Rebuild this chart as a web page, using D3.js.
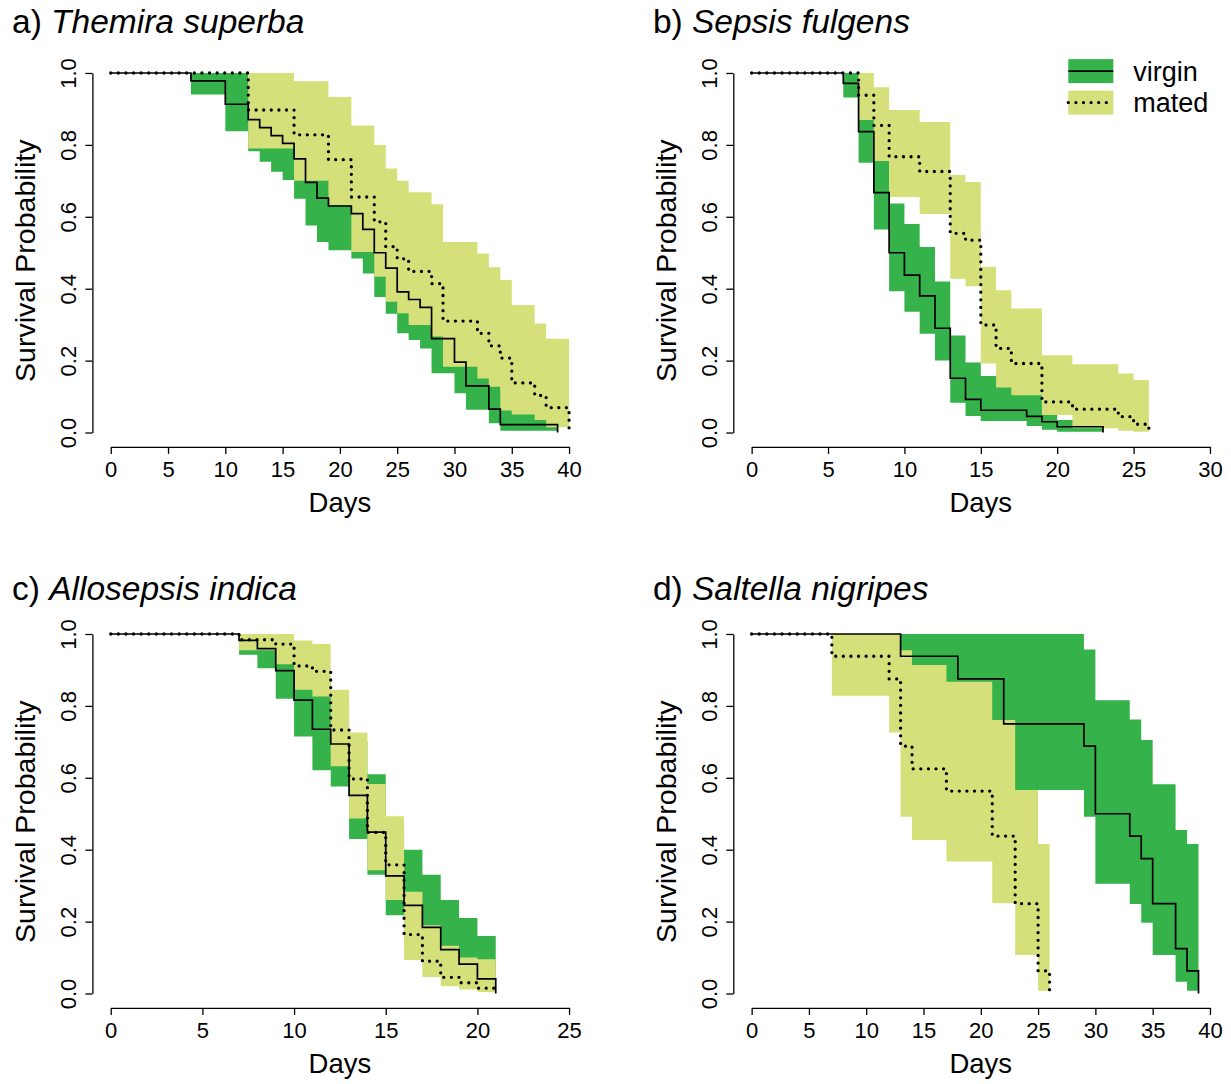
<!DOCTYPE html>
<html>
<head>
<meta charset="utf-8">
<script src="https://cdn.jsdelivr.net/npm/d3@7"></script>
<style>
  body { margin: 0; background: #fff; }
  text { font-family: "Liberation Sans", Arial, sans-serif; fill: #000; }
</style>
</head>
<body>
<svg id="chart" width="1231" height="1084"></svg>
<script>
// Kaplan-Meier curves.
// *Days = event times, *Surv = survival after each time,
// *Low / *High = confidence band on each interval [Days[i], Days[i+1])

// a) Themira superba
var aVirginDays = [0, 7, 10, 12, 13, 14, 15, 16, 17, 18, 19, 21, 22, 23, 24, 25, 26, 27, 28, 30, 31, 33, 34, 39];
var aVirginSurv = [1, .978, .913, .870, .848, .826, .804, .761, .696, .652, .630, .609, .565, .500, .457, .391, .370, .348, .261, .196, .130, .065, .022, 0];
var aVirginLow  = [1, .94, .838, .782, .753, .725, .702, .65, .576, .53, .507, .484, .442, .377, .33, .276, .257, .234, .165, .109, .063, .026, .005];
var aVirginHigh = [1, 1, 1, .97, .96, .945, .93, .89, .84, .80, .78, .76, .72, .66, .62, .56, .53, .51, .42, .35, .27, .18, .12];
var aMatedDays = [0, 12, 16, 19, 21, 23, 24, 25, 26, 28, 29, 32, 33, 34, 35, 37, 38, 40];
var aMatedSurv = [1, .897, .828, .759, .655, .586, .517, .483, .448, .414, .310, .276, .241, .207, .138, .103, .069, 0];
var aMatedLow  = [1, .79, .70, .632, .502, .433, .364, .332, .299, .267, .183, .15, .127, .061, .05, .035, .015];
var aMatedHigh = [1, 1, .977, .933, .854, .80, .734, .70, .668, .635, .53, .498, .46, .424, .355, .303, .261];

// b) Sepsis fulgens
var bVirginDays = [0, 6, 7, 8, 9, 10, 11, 12, 13, 14, 15, 18, 19, 20, 23];
var bVirginSurv = [1, .971, .837, .667, .5, .438, .380, .290, .151, .092, .062, .045, .03, .016, 0];
var bVirginLow  = [1, .932, .75, .565, .393, .336, .275, .2, .083, .046, .032, .018, .008, .002];
var bVirginHigh = [1, 1, .93, .79, .637, .58, .516, .42, .27, .195, .157, .12, .07, .035];
var bMatedDays = [0, 7, 8, 9, 11, 13, 14, 15, 16, 17, 19, 21, 24, 25, 26];
var bMatedSurv = [1, .938, .854, .767, .726, .554, .535, .299, .234, .192, .085, .065, .044, .023, 0];
var bMatedLow  = [1, .869, .755, .655, .608, .428, .407, .192, .125, .104, .049, .012, .005, .002];
var bMatedHigh = [1, 1, .96, .897, .864, .716, .697, .461, .396, .345, .215, .19, .164, .146];

// c) Allosepsis indica
var cVirginDays = [0, 7, 8, 9, 10, 11, 12, 13, 14, 15, 16, 17, 18, 19, 20, 21];
var cVirginSurv = [1, .982, .959, .898, .816, .735, .694, .551, .449, .327, .245, .184, .122, .082, .041, 0];
var cVirginLow  = [1, .942, .905, .82, .715, .621, .576, .43, .33, .218, .15, .10, .055, .03, .01];
var cVirginHigh = [1, 1, 1, .98, .93, .87, .82, .70, .61, .47, .40, .33, .26, .21, .16];
var cMatedDays = [0, 7, 9, 10, 11, 12, 13, 14, 15, 16, 17, 18, 19, 20, 21];
var cMatedSurv = [1, .984, .972, .911, .896, .733, .597, .448, .358, .164, .09, .045, .03, .015, 0];
var cMatedLow  = [1, .955, .916, .845, .826, .632, .487, .343, .26, .093, .046, .02, .011, .004];
var cMatedHigh = [1, 1, 1, .982, .972, .845, .726, .583, .493, .283, .19, .133, .10, .095];

// d) Saltella nigripes
var dVirginDays = [0, 13, 18, 22, 29, 30, 33, 34, 35, 37, 38, 39];
var dVirginSurv = [1, .938, .875, .75, .688, .5, .438, .375, .25, .125, .063, 0];
var dVirginLow  = [1, .82, .72, .566, .492, .305, .249, .197, .107, .033, .008];
var dVirginHigh = [1, 1, 1, 1, .957, .816, .762, .705, .582, .455, .416];
var dMatedDays = [0, 7, 12, 13, 14, 17, 21, 23, 25, 26];
var dMatedSurv = [1, .938, .875, .688, .625, .563, .438, .25, .063, 0];
var dMatedLow  = [1, .828, .726, .492, .427, .367, .251, .107, .008];
var dMatedHigh = [1, 1, 1, .955, .914, .867, .761, .566, .416];

var yTicks = [0, 0.2, 0.4, 0.6, 0.8, 1.0];
var legendLabels = ["virgin", "mated"];

var virginFill = "#35b34a", matedFill = "#d5e07b";

var panels = [
  {tag: "a)", name: "Themira superba", col: 0, row: 0, xmax: 40,
   virgin: [aVirginDays, aVirginSurv, aVirginLow, aVirginHigh],
   mated: [aMatedDays, aMatedSurv, aMatedLow, aMatedHigh]},
  {tag: "b)", name: "Sepsis fulgens", col: 1, row: 0, xmax: 30, legend: true,
   virgin: [bVirginDays, bVirginSurv, bVirginLow, bVirginHigh],
   mated: [bMatedDays, bMatedSurv, bMatedLow, bMatedHigh]},
  {tag: "c)", name: "Allosepsis indica", col: 0, row: 1, xmax: 25,
   virgin: [cVirginDays, cVirginSurv, cVirginLow, cVirginHigh],
   mated: [cMatedDays, cMatedSurv, cMatedLow, cMatedHigh]},
  {tag: "d)", name: "Saltella nigripes", col: 1, row: 1, xmax: 40,
   virgin: [dVirginDays, dVirginSurv, dVirginLow, dVirginHigh],
   mated: [dMatedDays, dMatedSurv, dMatedLow, dMatedHigh]}
];

var svg = d3.select("#chart");
var W = 495, H = 388.3;
var lefts = [92.4, 733.3], tops = [58.6, 619.6];
var titleY = [33, 600];
var dotted = "0 7.6";

function bandPts(g) {
  var days = g[0], lo = g[2], hi = g[3];
  var pts = lo.map(function(v, i) { return {t: days[i], lo: v, hi: hi[i]}; });
  var last = lo.length - 1;
  pts.push({t: days[days.length - 1], lo: lo[last], hi: hi[last]});
  return pts;
}
function survPts(g) {
  return g[0].map(function(t, i) { return {t: t, s: g[1][i]}; });
}

panels.forEach(function(p) {
  var left = lefts[p.col], top = tops[p.row];
  var x = d3.scaleLinear().domain([-0.04 * p.xmax, 1.04 * p.xmax]).range([left, left + W]);
  var y = d3.scaleLinear().domain([-0.04, 1.04]).range([top + H, top]);
  var g = svg.append("g");

  var area = d3.area().curve(d3.curveStepAfter)
    .x(function(d) { return x(d.t); })
    .y0(function(d) { return y(d.lo); })
    .y1(function(d) { return y(d.hi); });
  var line = d3.line().curve(d3.curveStepAfter)
    .x(function(d) { return x(d.t); })
    .y(function(d) { return y(d.s); });

  g.append("path").attr("d", area(bandPts(p.virgin))).attr("fill", virginFill);
  g.append("path").attr("d", area(bandPts(p.mated))).attr("fill", matedFill);

  g.append("path").attr("d", line(survPts(p.virgin)))
    .attr("fill", "none").attr("stroke", "#000").attr("stroke-width", 1.7);
  g.append("path").attr("d", line(survPts(p.mated)))
    .attr("fill", "none").attr("stroke", "#000").attr("stroke-width", 3.3)
    .attr("stroke-linecap", "round").attr("stroke-dasharray", dotted);

  // axes, R style: line only between first and last tick
  var xa = d3.scaleLinear().domain([0, p.xmax]).range([x(0), x(p.xmax)]);
  var xAxis = g.append("g").attr("transform", "translate(0," + (top + H) + ")")
    .call(d3.axisBottom(xa).tickValues(d3.range(0, p.xmax + 1, 5))
      .tickSize(7).tickSizeOuter(0).tickPadding(7).tickFormat(d3.format("d")));
  var ya = d3.scaleLinear().domain([0, 1]).range([y(0), y(1)]);
  var yAxis = g.append("g").attr("transform", "translate(" + left + ",0)")
    .call(d3.axisLeft(ya).tickValues(yTicks).tickSize(7).tickSizeOuter(0)
      .tickFormat(d3.format(".1f")));
  [xAxis, yAxis].forEach(function(ax) {
    ax.selectAll("path, line").attr("stroke", "#000").attr("stroke-width", 1.3);
    ax.selectAll("text").attr("font-size", 22)
      .attr("font-family", "'Liberation Sans', Arial, sans-serif").attr("fill", "#000");
  });
  yAxis.selectAll("text")
    .attr("text-anchor", "middle").attr("x", null).attr("dy", null)
    .attr("transform", "translate(-16,0) rotate(-90)");

  g.append("text").attr("x", left + W / 2).attr("y", top + H + 65)
    .attr("text-anchor", "middle").attr("font-size", 27.5).text("Days");
  g.append("text")
    .attr("transform", "translate(" + (left - 57) + "," + (top + H / 2 + 8) + ") rotate(-90)")
    .attr("text-anchor", "middle").attr("font-size", 28.5).text("Survival Probability");

  var title = g.append("text").attr("x", left - 80.4).attr("y", titleY[p.row]).attr("font-size", 33.5);
  title.append("tspan").text(p.tag + " ");
  title.append("tspan").attr("font-style", "italic").text(p.name);

  if (p.legend) {
    var lg = g.append("g").attr("transform", "translate(" + (left + 335) + "," + top + ")");
    var fills = [virginFill, matedFill];
    legendLabels.forEach(function(lab, i) {
      var cy = 12.5 + i * 31.5;
      lg.append("rect").attr("x", 0).attr("y", cy - 12).attr("width", 45).attr("height", 24)
        .attr("fill", fills[i]);
      var l = lg.append("line").attr("x1", 0).attr("x2", 45).attr("y1", cy).attr("y2", cy)
        .attr("stroke", "#000");
      if (i === 0) l.attr("stroke-width", 1.7);
      else l.attr("stroke-width", 3.3).attr("stroke-linecap", "round").attr("stroke-dasharray", dotted);
      lg.append("text").attr("x", 65).attr("y", cy + 9.5).attr("font-size", 27).text(lab);
    });
  }
});
</script>
</body>
</html>
